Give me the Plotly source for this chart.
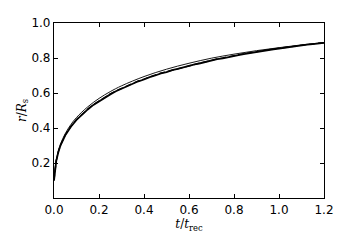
import plotly.graph_objects as go

# analytic (thin) curve
t_model = [0.0, 0.002, 0.005, 0.01, 0.02, 0.03, 0.05, 0.075, 0.1, 0.15, 0.2, 0.25, 0.3,
           0.4, 0.5, 0.6, 0.7, 0.8, 0.9, 1.0, 1.1, 1.2]
r_model = [0.10, 0.127, 0.172, 0.217, 0.273, 0.312, 0.368, 0.420, 0.460, 0.521, 0.569, 0.608,
           0.641, 0.694, 0.736, 0.770, 0.799, 0.822, 0.842, 0.859, 0.875, 0.888]

# simulation (thick) curves
t_sim = [0.0, 0.002, 0.005, 0.01, 0.02, 0.03, 0.05, 0.075, 0.1, 0.125, 0.15, 0.175, 0.2,
         0.225, 0.25, 0.275, 0.3, 0.325, 0.35, 0.375, 0.4, 0.425, 0.45, 0.475, 0.5, 0.525,
         0.55, 0.575, 0.6, 0.625, 0.65, 0.675, 0.7, 0.725, 0.75, 0.775, 0.8, 0.825, 0.85,
         0.875, 0.9, 0.925, 0.95, 0.975, 1.0, 1.025, 1.05, 1.075, 1.1, 1.125, 1.15, 1.175, 1.2]
r_sim = [0.10, 0.124, 0.168, 0.212, 0.266, 0.304, 0.358, 0.407, 0.446, 0.478, 0.506, 0.532,
         0.553, 0.575, 0.592, 0.610, 0.624, 0.641, 0.652, 0.667, 0.677, 0.691, 0.700, 0.712,
         0.719, 0.731, 0.738, 0.748, 0.755, 0.764, 0.770, 0.779, 0.784, 0.793, 0.798, 0.806,
         0.811, 0.818, 0.823, 0.829, 0.834, 0.840, 0.844, 0.850, 0.854, 0.859, 0.862, 0.868,
         0.871, 0.876, 0.879, 0.884, 0.887]
r_sim2 = [0.10, 0.125, 0.169, 0.213, 0.267, 0.305, 0.360, 0.409, 0.448, 0.480, 0.508, 0.534,
          0.556, 0.577, 0.595, 0.612, 0.627, 0.643, 0.655, 0.669, 0.680, 0.693, 0.703, 0.714,
          0.722, 0.733, 0.741, 0.750, 0.758, 0.766, 0.773, 0.781, 0.787, 0.795, 0.801, 0.808,
          0.814, 0.820, 0.826, 0.831, 0.837, 0.842, 0.847, 0.852, 0.856, 0.861, 0.865, 0.869,
          0.873, 0.877, 0.881, 0.885, 0.888]

x_ticks = [0.0, 0.2, 0.4, 0.6, 0.8, 1.0, 1.2]
x_tick_labels = ["0.0", "0.2", "0.4", "0.6", "0.8", "1.0", "1.2"]
y_ticks = [0.2, 0.4, 0.6, 0.8, 1.0]
y_tick_labels = ["0.2", "0.4", "0.6", "0.8", "1.0"]

fig = go.Figure()
fig.add_trace(go.Scatter(x=t_model, y=r_model, mode="lines",
                         line=dict(color="black", width=0.9, shape="spline"), showlegend=False))
fig.add_trace(go.Scatter(x=t_sim, y=r_sim2, mode="lines",
                         line=dict(color="black", width=1.3, dash="6px,3px"), showlegend=False))
fig.add_trace(go.Scatter(x=t_sim, y=r_sim, mode="lines",
                         line=dict(color="black", width=1.8), showlegend=False))

axis_common = dict(showline=True, linecolor="black", linewidth=1.2, mirror="ticks",
                   ticks="inside", ticklen=4, tickwidth=0.8, tickcolor="black",
                   showgrid=False, zeroline=False,
                   tickfont=dict(family="DejaVu Sans", size=12, color="black"))

# page body has an 8px margin; the figure is sized/placed to compensate
fig.update_layout(
    width=334, height=229,
    margin=dict(l=46, r=11, t=8, b=39),
    paper_bgcolor="white", plot_bgcolor="white",
    xaxis=dict(range=[0, 1.2], tickvals=x_ticks, ticktext=x_tick_labels,
               title=dict(text="<i>t</i>/<i>t</i><sub>rec</sub>", standoff=4,
                          font=dict(family="DejaVu Serif", size=12, color="black")),
               **axis_common),
    yaxis=dict(range=[0, 1.0], tickvals=y_ticks, ticktext=y_tick_labels,
               title=dict(text="<i>r</i>/<i>R</i><sub>s</sub>", standoff=2,
                          font=dict(family="DejaVu Serif", size=12, color="black")),
               **axis_common),
)

fig.write_html("out.html")
